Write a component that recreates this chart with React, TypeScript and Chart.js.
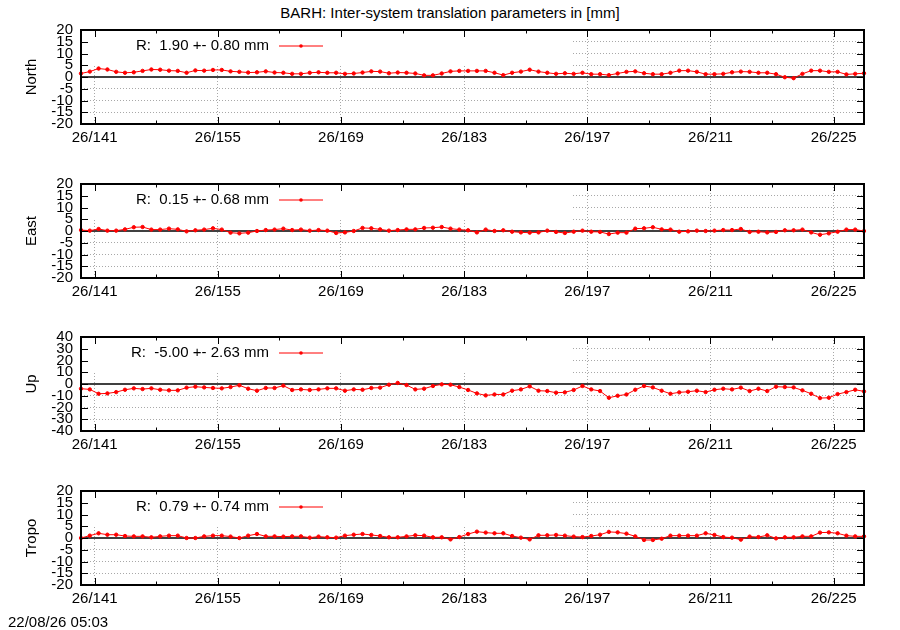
import React, { useEffect, useRef } from 'react'
import { Chart, registerables } from 'chart.js'

Chart.register(...registerables)

// epoch of the first daily solution (day of year) and the year tag used in tick labels
const FIRST_EPOCH = 139.45
const YEAR_TAG = '26'
const MAJOR_DAYS = [141, 155, 169, 183, 197, 211, 225]
const MINOR_DAYS = [148, 162, 176, 190, 204, 218]

const TICKS_20 = [-20, -15, -10, -5, 0, 5, 10, 15, 20]
const TICKS_40 = [-40, -30, -20, -10, 0, 10, 20, 30, 40]

const NORTH = [
    1.5, 2.3, 3.6, 3.2, 2.2, 1.8, 2.0, 2.6, 3.2, 3.1,
    2.7, 2.6, 1.8, 2.8, 2.7, 3.0, 3.0, 2.4, 2.2, 1.9,
    2.0, 2.4, 1.9, 1.8, 1.35, 1.35, 1.8, 2.0, 1.8, 1.8,
    1.35, 1.5, 1.9, 2.4, 2.3, 1.6, 1.9, 1.8, 1.5, 0.7,
    0.7, 1.5, 2.4, 2.6, 2.6, 2.6, 2.6, 1.8, 0.8, 1.8,
    2.3, 3.1, 2.3, 1.8, 1.35, 1.6, 1.35, 1.8, 1.2, 1.2,
    0.8, 1.5, 2.2, 2.4, 1.6, 1.2, 1.2, 1.8, 2.7, 2.7,
    2.2, 1.2, 1.2, 1.35, 2.0, 2.3, 2.2, 1.8, 1.8, 1.2,
    -0.1, -0.5, 1.35, 2.7, 2.7, 2.2, 2.2, 1.1, 1.35, 1.6
]

const EAST = [
    0.4, 0.15, 0.85, 0.15, 0.15, 0.7, 1.6, 1.7, 0.6, 0.6,
    1.0, 0.7, -0.15, 0.3, 0.6, 1.15, 0.6, -0.7, -1.0, -0.7,
    0, 0.4, 0.6, 1.0, 0.4, 0.6, 0.15, 0.4, 0.15, -0.85,
    -0.6, 0, 1.3, 1.15, 0.7, 0.15, 0.4, 0.7, 0.7, 1.3,
    1.4, 1.7, 1.0, 0.6, 0.3, -0.6, 0.6, 0, 0.3, -0.3,
    -0.6, -0.7, -0.6, 0.15, -0.4, -0.85, -0.3, 0.15, -0.3, -0.4,
    -1.3, -0.7, -0.7, 1.0, 1.15, 1.6, 0.7, 0.6, -0.3, -0.15,
    0.15, 0, 0.15, 0.4, 0.4, 0.85, -0.4, -0.3, -0.6, -0.4,
    0.3, 0.3, 0.6, -0.6, -1.6, -1.0, -0.3, 0.6, 0.6, 0
]

const UP = [
    -4.0, -4.6, -8.3, -8.0, -6.9, -4.9, -3.7, -4.3, -3.7, -4.9,
    -5.4, -5.4, -3.1, -2.3, -2.9, -3.4, -3.7, -2.6, -1.1, -4.0,
    -5.7, -3.4, -3.4, -1.4, -5.1, -4.6, -5.1, -4.6, -3.7, -3.7,
    -5.7, -4.6, -4.9, -3.4, -3.1, -0.6, 0.9, -0.9, -4.6, -4.0,
    -1.7, -0.3, -0.6, -2.6, -5.1, -8.0, -9.7, -8.9, -8.9, -5.7,
    -4.6, -2.0, -5.7, -6.0, -7.4, -7.1, -5.1, -1.7, -4.6, -6.0,
    -11.7, -10.0, -8.9, -4.9, -1.7, -2.9, -5.7, -8.3, -7.1, -6.6,
    -5.7, -6.9, -4.9, -4.0, -4.6, -3.1, -6.0, -4.0, -6.0, -2.3,
    -2.6, -2.9, -5.4, -8.3, -12.0, -11.7, -8.6, -6.9, -4.9, -6.3
]

const TROPO = [
    0, 1.0, 2.0, 1.4, 1.4, 0.85, 0.7, 0.7, 0.3, 0.7,
    1.0, 1.0, 0, 0, 0.7, 1.0, 1.0, 0.6, 0, 1.0,
    1.7, 0.7, 0.7, 0.6, 0.7, 0.7, 0.15, 0.6, 0.3, 0.15,
    1.0, 1.4, 1.7, 1.3, 0.85, 0.3, 0.3, 0.7, 1.15, 1.0,
    0.3, 0.3, -0.6, 0.4, 1.7, 2.7, 2.3, 2.0, 2.0, 0.85,
    0.15, -0.6, 1.15, 1.15, 1.3, 1.0, 0.6, 0.4, 0.85, 1.4,
    2.6, 2.4, 1.85, 0.7, -0.85, -0.85, -0.3, 1.0, 1.0, 1.0,
    1.0, 2.0, 1.3, 0.4, 0.15, -0.7, 0.6, 0.4, 1.15, -0.15,
    0.3, 0.3, 0.7, 0.7, 2.3, 2.4, 2.0, 1.0, 0.7, 0.7
]

const FONT_FAMILY = '"Liberation Sans", Arial, sans-serif'
const FONT_SIZE = 15
const RED = '#ff0000'
const GRID = '#a8a8a8'

// panel geometry (px)
const PAD_TOP = 10
const PLOT_H = 94
const X_AXIS_H = 46
const Y_AXIS_W = 81
const RIGHT_PAD = 36
const PANEL_H = PAD_TOP + PLOT_H + X_AXIS_H

interface PanelProps {
    name: string
    values: number[]
    yTicks: number[]
    keyText: string
    top: number
}

const Panel: React.FC<PanelProps> = ({ name, values, yTicks, keyText, top }) => {
    const chartRef = useRef<HTMLCanvasElement>(null)

    useEffect(() => {
        if (!chartRef.current) return
        const points = values.map((v, i) => ({ x: FIRST_EPOCH + i, y: v }))
        const yMin = yTicks[0]
        const yMax = yTicks[yTicks.length - 1]
        const font = `${FONT_SIZE}px ${FONT_FAMILY}`

        // gnuplot look: opaque key box, zero axis, inward ticks, frame, key
        const frame = {
            id: 'gnuplotFrame',
            beforeDatasetsDraw(chart: any) {
                const { ctx, chartArea: a, scales } = chart
                ctx.save()
                ctx.fillStyle = '#ffffff'
                ctx.fillRect(a.left, a.top, 492, 36)
                const y0 = scales.y.getPixelForValue(0)
                ctx.strokeStyle = '#000'
                ctx.lineWidth = 1.5
                ctx.beginPath()
                ctx.moveTo(a.left, y0)
                ctx.lineTo(a.right, y0)
                ctx.stroke()
                ctx.restore()
            },
            afterDatasetsDraw(chart: any) {
                const { ctx, chartArea: a, scales } = chart
                ctx.save()
                ctx.strokeStyle = '#000'
                ctx.lineWidth = 1
                ctx.beginPath()
                MAJOR_DAYS.concat(MINOR_DAYS).forEach((d) => {
                    const x = Math.round(scales.x.getPixelForValue(d)) + 0.5
                    const len = MAJOR_DAYS.includes(d) ? 7 : 3.5
                    ctx.moveTo(x, a.bottom)
                    ctx.lineTo(x, a.bottom - len)
                    ctx.moveTo(x, a.top)
                    ctx.lineTo(x, a.top + len)
                })
                yTicks.forEach((t) => {
                    const y = Math.round(scales.y.getPixelForValue(t)) + 0.5
                    ctx.moveTo(a.left, y)
                    ctx.lineTo(a.left + 7, y)
                    ctx.moveTo(a.right, y)
                    ctx.lineTo(a.right - 7, y)
                })
                ctx.stroke()

                ctx.lineWidth = 2
                ctx.strokeRect(a.left, a.top, a.right - a.left, a.bottom - a.top)

                // key
                const ky = a.top + 16
                ctx.fillStyle = '#000'
                ctx.font = font
                ctx.textAlign = 'right'
                ctx.textBaseline = 'middle'
                ctx.fillText(keyText, a.left + 188, ky)
                ctx.strokeStyle = RED
                ctx.lineWidth = 1
                ctx.beginPath()
                ctx.moveTo(a.left + 198, ky)
                ctx.lineTo(a.left + 242, ky)
                ctx.stroke()
                ctx.fillStyle = RED
                ctx.beginPath()
                ctx.arc(a.left + 220, ky, 1.8, 0, Math.PI * 2)
                ctx.fill()

                // axis name
                ctx.fillStyle = '#000'
                ctx.translate(a.left - 49, (a.top + a.bottom) / 2)
                ctx.rotate(-Math.PI / 2)
                ctx.textAlign = 'center'
                ctx.fillText(name, 0, 0)
                ctx.restore()
            }
        }

        const chart = new Chart(chartRef.current, {
            type: 'line',
            data: {
                datasets: [{
                    data: points,
                    borderColor: RED,
                    backgroundColor: RED,
                    borderWidth: 1,
                    pointRadius: 1.7,
                    pointHoverRadius: 1.7,
                    tension: 0,
                    clip: false
                }]
            },
            options: {
                animation: false,
                responsive: true,
                maintainAspectRatio: false,
                events: [],
                layout: { padding: { top: PAD_TOP, right: RIGHT_PAD, left: 0, bottom: 0 } },
                plugins: {
                    legend: { display: false },
                    tooltip: { enabled: false }
                },
                scales: {
                    x: {
                        type: 'linear',
                        min: FIRST_EPOCH,
                        max: FIRST_EPOCH + values.length - 1,
                        afterBuildTicks: (s: any) => { s.ticks = MAJOR_DAYS.map((v) => ({ value: v })) },
                        afterFit: (s: any) => {
                            s.height = X_AXIS_H
                            s.paddingLeft = 0
                            s.paddingRight = 0
                        },
                        grid: { color: GRID, drawTicks: false, lineWidth: 1 },
                        border: { display: false, dash: [1, 2] },
                        ticks: {
                            autoSkip: false,
                            maxRotation: 0,
                            padding: 5,
                            color: '#000',
                            font: { family: FONT_FAMILY, size: FONT_SIZE },
                            callback: (v: any) => `${YEAR_TAG}/${v}`
                        }
                    },
                    y: {
                        min: yMin,
                        max: yMax,
                        afterBuildTicks: (s: any) => { s.ticks = yTicks.map((v) => ({ value: v })) },
                        afterFit: (s: any) => {
                            s.width = Y_AXIS_W
                            s.paddingTop = 0
                            s.paddingBottom = 0
                        },
                        grid: {
                            color: (c: any) => (c.tick && (c.tick.value === 0 || c.tick.value === yMin || c.tick.value === yMax) ? 'rgba(0,0,0,0)' : GRID),
                            drawTicks: false,
                            lineWidth: 1
                        },
                        border: { display: false, dash: [1, 2] },
                        ticks: {
                            autoSkip: false,
                            padding: 8,
                            color: '#000',
                            font: { family: FONT_FAMILY, size: FONT_SIZE }
                        }
                    }
                }
            },
            plugins: [frame]
        })

        return () => {
            chart.destroy()
        }
    }, [name, values, yTicks, keyText])

    return (
        <div style={{ position: 'absolute', left: 0, top: top - PAD_TOP, width: 900, height: PANEL_H }}>
            <canvas ref={chartRef}></canvas>
        </div>
    )
}

const App: React.FC = () => {
    const textStyle: React.CSSProperties = {
        position: 'absolute',
        fontFamily: FONT_FAMILY,
        fontSize: FONT_SIZE,
        lineHeight: '18px',
        color: '#000',
        whiteSpace: 'pre'
    }
    return (
        <div style={{ position: 'absolute', left: 0, top: 0, width: 900, height: 630, background: '#fff', overflow: 'hidden' }}>
            <div style={{ ...textStyle, top: 4, left: 0, width: 900, textAlign: 'center' }}>
                BARH: Inter-system translation parameters in [mm]
            </div>
            <Panel name="North" values={NORTH} yTicks={TICKS_20} keyText="R:  1.90 +- 0.80 mm" top={30} />
            <Panel name="East" values={EAST} yTicks={TICKS_20} keyText="R:  0.15 +- 0.68 mm" top={184} />
            <Panel name="Up" values={UP} yTicks={TICKS_40} keyText="R:  -5.00 +- 2.63 mm" top={337} />
            <Panel name="Tropo" values={TROPO} yTicks={TICKS_20} keyText="R:  0.79 +- 0.74 mm" top={491} />
            <div style={{ ...textStyle, top: 613, left: 8 }}>22/08/26 05:03</div>
        </div>
    )
}

export default App
